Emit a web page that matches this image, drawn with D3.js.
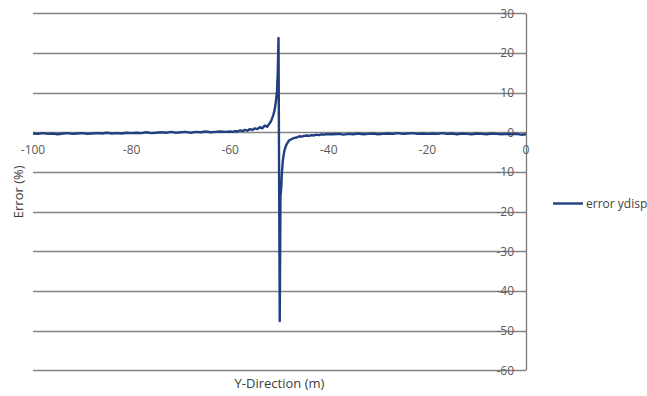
<!DOCTYPE html>
<html>
<head>
<meta charset="utf-8">
<script src="https://cdn.jsdelivr.net/npm/d3@7"></script>
<style>
  html, body { margin: 0; padding: 0; background: #fff; }
  svg { display: block; }
  text { font-family: "Open Sans", sans-serif; fill: #595959; }
</style>
</head>
<body>
<svg id="chart" width="647" height="396"></svg>
<script>
// ---- data ----
const seriesName = "error ydisp";
const xTicks = [-100, -80, -60, -40, -20, 0];
const yTicks = [30, 20, 10, 0, -10, -20, -30, -40, -50, -60];

const xLeft = [-100,-99,-98,-97,-96,-95,-94,-93,-92,-91,
               -90,-89,-88,-87,-86,-85,-84,-83,-82,-81,
               -80,-79,-78,-77,-76,-75,-74,-73,-72,-71,
               -70,-69,-68,-67,-66,-65,-64,-63,-62,-61];
const yLeft = [-0.3,-0.4,-0.2,-0.4,-0.3,-0.5,-0.3,-0.2,-0.4,-0.3,
               -0.2,-0.4,-0.3,-0.2,-0.3,-0.1,-0.3,-0.2,-0.3,-0.1,
               -0.2,-0.1,-0.2,0.0,-0.2,-0.1,0.0,-0.1,0.1,-0.1,
               0.0,0.1,-0.1,0.1,0.0,0.2,0.0,0.1,0.2,0.1];

const xSpike = [-60,-59.5,-59,-58.5,-58,-57.5,-57,-56.5,-56,-55.5,-55,-54.5,-54,-53.5,-53,-52.5,-52,
                -51.75,-51.5,-51.25,-51,-50.75,-50.5,-50.35,-50.2,
                -49.95,-49.8,-49.65,-49.5,-49.35,-49.2,-49,-48.75,-48.5,-48.25,-48,
                -47.5,-47,-46.5,-46,-45.5,-45,-44.5,-44,-43.5,-43,-42.5,-42,-41.5,-41,-40.5,-40];
const ySpike = [0.2,0.1,0.3,0.2,0.5,0.3,0.6,0.4,0.8,0.6,1.0,0.8,1.3,1.0,1.7,1.4,2.3,
                2.7,3.5,4.4,5.6,7.5,10.5,15,23.8,
                -47.6,-16,-14,-10,-7.5,-6,-4.6,-3.6,-2.9,-2.4,-2.0,
                -1.7,-1.4,-1.3,-1.0,-1.1,-0.9,-0.8,-0.9,-0.7,-0.8,-0.6,-0.7,-0.5,-0.6,-0.5,-0.5];

const xRight = [-39,-38,-37,-36,-35,-34,-33,-32,-31,-30,
                -29,-28,-27,-26,-25,-24,-23,-22,-21,-20,
                -19,-18,-17,-16,-15,-14,-13,-12,-11,-10,
                -9,-8,-7,-6,-5,-4,-3,-2,-1,0];
const yRight = [-0.5,-0.4,-0.6,-0.4,-0.5,-0.3,-0.5,-0.4,-0.3,-0.5,
                -0.4,-0.3,-0.4,-0.2,-0.4,-0.3,-0.2,-0.4,-0.3,-0.4,
                -0.3,-0.4,-0.2,-0.4,-0.3,-0.5,-0.3,-0.4,-0.5,-0.3,
                -0.4,-0.5,-0.3,-0.4,-0.5,-0.4,-0.5,-0.4,-0.6,-0.5];

const xs = xLeft.concat(xSpike, xRight);
const ys = yLeft.concat(ySpike, yRight);
const points = xs.map((x, i) => ({x: x, y: ys[i]}));

// ---- layout ----
const svg = d3.select("#chart");
const x = d3.scaleLinear().domain([-100, 0]).range([33, 526]);
const y = d3.scaleLinear().domain([-60, 30]).range([370.3, 13.3]);

const gridColor = "#858585";

// gridlines
svg.append("g").selectAll("line").data(yTicks).join("line")
  .attr("x1", x(-100)).attr("x2", x(0))
  .attr("y1", d => Math.round(y(d)) + 0.5).attr("y2", d => Math.round(y(d)) + 0.5)
  .attr("stroke", gridColor).attr("stroke-width", 1.3);

// vertical axis line at x = 0
svg.append("line")
  .attr("x1", Math.round(x(0)) + 0.5).attr("x2", Math.round(x(0)) + 0.5)
  .attr("y1", Math.round(y(30)) + 0.5).attr("y2", Math.round(y(-60)) + 0.5)
  .attr("stroke", "#7a7a7a").attr("stroke-width", 1.3);

// y tick labels
svg.append("g").selectAll("text").data(yTicks).join("text")
  .attr("x", x(0) - 12).attr("y", d => y(d))
  .attr("dy", "0.35em").attr("text-anchor", "end")
  .attr("font-size", 12)
  .text(d => d);

// x tick labels
svg.append("g").selectAll("text").data(xTicks).join("text")
  .attr("x", d => x(d)).attr("y", y(0) + 17.5)
  .attr("dy", "0.35em").attr("text-anchor", "middle")
  .attr("font-size", 12)
  .text(d => d);

// series line
const line = d3.line().x(d => x(d.x)).y(d => y(d.y));
svg.append("path").datum(points)
  .attr("d", line)
  .attr("fill", "none")
  .attr("stroke", "#203f80")
  .attr("stroke-width", 2.4)
  .attr("stroke-linejoin", "round");

// axis titles
svg.append("text")
  .attr("transform", `translate(18, ${(y(30) + y(-60)) / 2}) rotate(-90)`)
  .attr("text-anchor", "middle").attr("dy", "0.35em")
  .attr("font-size", 13).style("fill", "#404040")
  .text("Error (%)");

svg.append("text")
  .attr("x", (x(-100) + x(0)) / 2).attr("y", 383)
  .attr("text-anchor", "middle").attr("dy", "0.35em")
  .attr("font-size", 13).style("fill", "#404040")
  .text("Y-Direction (m)");

// legend
const legend = svg.append("g");
legend.append("line")
  .attr("x1", 553).attr("x2", 583).attr("y1", 203.5).attr("y2", 203.5)
  .attr("stroke", "#203f80").attr("stroke-width", 2.4);
legend.append("text")
  .attr("x", 586).attr("y", 203.5).attr("dy", "0.35em")
  .attr("font-size", 12).style("fill", "#404040")
  .text(seriesName);
</script>
</body>
</html>
